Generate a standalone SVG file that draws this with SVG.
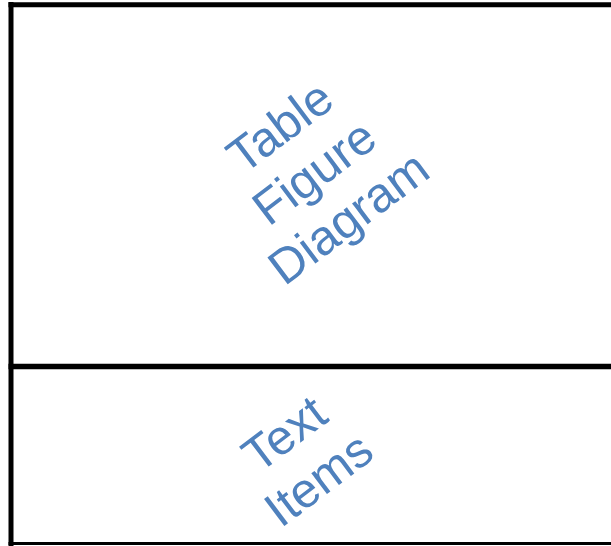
<svg xmlns="http://www.w3.org/2000/svg" width="611" height="546" viewBox="0 0 611 546">
<style>
.lbl{font-family:"Liberation Sans",Arial,sans-serif;font-size:49px;fill:#4F81BD;text-anchor:middle}
.frame{stroke:#000;fill:none}
</style>
<rect width="611" height="546" fill="#fff"/>
<g id="frame">
<line class="frame" x1="11" y1="2" x2="11" y2="546" stroke-width="5"/>
<line class="frame" x1="8.5" y1="4.7" x2="611" y2="4.7" stroke-width="5"/>
<line class="frame" x1="8.5" y1="366.5" x2="611" y2="366.5" stroke-width="5.5"/>
<line class="frame" x1="8.5" y1="543.5" x2="611" y2="543.5" stroke-width="3"/>
</g>
<g id="top-cell" transform="translate(314,172) rotate(-37)">
<text class="lbl" x="0" y="-40">Table</text>
<text class="lbl" x="0" y="17">Figure</text>
<text class="lbl" x="0" y="74">Diagram</text>
</g>
<g id="bottom-cell" transform="translate(301,456) rotate(-37)">
<text class="lbl" x="0" y="-11">Text</text>
<text class="lbl" x="0" y="46">Items</text>
</g>
</svg>
